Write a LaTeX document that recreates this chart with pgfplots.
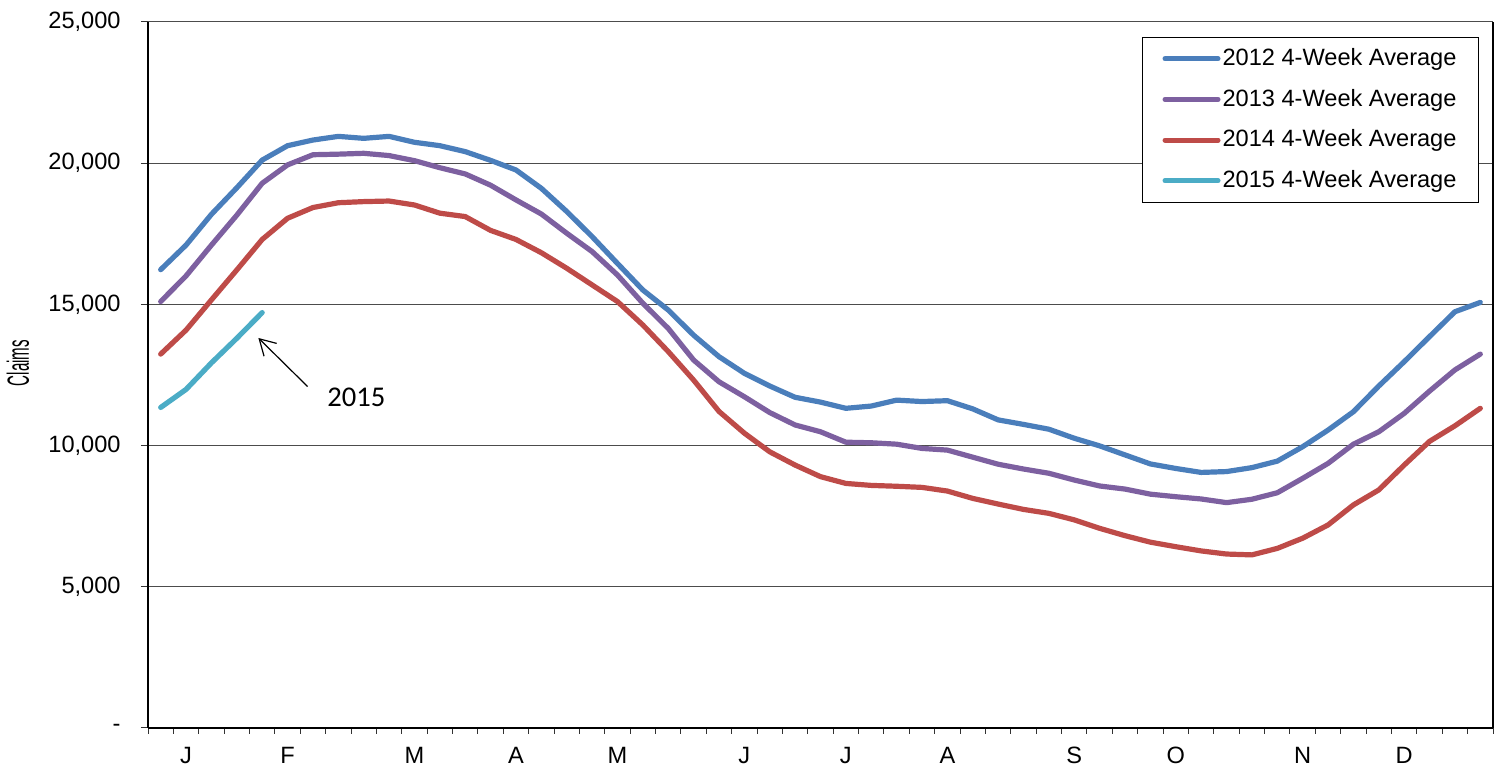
\documentclass[border=0pt]{standalone}
\usepackage{fontspec}
\setmainfont{Liberation Sans}
\newfontfamily\calibri{Carlito}
\usepackage{graphicx}
\usepackage{pgfplots}
\pgfplotsset{compat=1.18}
\usetikzlibrary{arrows.meta}
\definecolor{c12}{HTML}{4A7EBB}
\definecolor{c13}{HTML}{7D60A0}
\definecolor{c14}{HTML}{BE4B48}
\definecolor{c15}{HTML}{4BACC6}

\pgfplotstableread{
x y
0 16230
1 17100
2 18190
3 19130
4 20110
5 20620
6 20820
7 20950
8 20880
9 20950
10 20740
11 20620
12 20410
13 20100
14 19760
15 19110
16 18290
17 17400
18 16450
19 15510
20 14800
21 13910
22 13150
23 12560
24 12110
25 11710
26 11540
27 11320
28 11400
29 11610
30 11560
31 11590
32 11300
33 10910
34 10750
35 10580
36 10260
37 9990
38 9670
39 9350
40 9190
41 9050
42 9080
43 9220
44 9450
45 9960
46 10550
47 11200
48 12110
49 12970
50 13860
51 14740
52 15070
}\dataA

\pgfplotstableread{
x y
0 15100
1 16010
2 17100
3 18160
4 19290
5 19940
6 20300
7 20320
8 20350
9 20270
10 20090
11 19840
12 19620
13 19220
14 18700
15 18200
16 17520
17 16870
18 16040
19 15040
20 14150
21 13030
22 12260
23 11730
24 11170
25 10730
26 10490
27 10120
28 10100
29 10050
30 9900
31 9840
32 9590
33 9340
34 9170
35 9020
36 8780
37 8570
38 8460
39 8280
40 8190
41 8110
42 7980
43 8100
44 8330
45 8840
46 9370
47 10050
48 10490
49 11140
50 11930
51 12680
52 13240
}\dataB

\pgfplotstableread{
x y
0 13240
1 14090
2 15160
3 16220
4 17300
5 18050
6 18430
7 18600
8 18640
9 18660
10 18520
11 18230
12 18110
13 17620
14 17300
15 16830
16 16280
17 15690
18 15100
19 14270
20 13330
21 12320
22 11210
23 10440
24 9780
25 9310
26 8900
27 8660
28 8590
29 8560
30 8520
31 8390
32 8130
33 7930
34 7740
35 7600
36 7370
37 7070
38 6810
39 6580
40 6420
41 6270
42 6160
43 6130
44 6360
45 6720
46 7190
47 7900
48 8430
49 9310
50 10150
51 10700
52 11320
}\dataC

\pgfplotstableread{
x y
0 11350
1 11990
2 12930
3 13800
4 14710
}\dataD

\begin{document}
\fontsize{11.8}{14}\selectfont
\begin{tikzpicture}
\path[use as bounding box] (0,0) rectangle (750pt,385pt);
\begin{axis}[
  at={(74pt,21pt)}, anchor=south west,
  scale only axis, width=672.5pt, height=353pt,
  xmin=-0.5, xmax=52.5, ymin=0, ymax=25000,
  axis x line=bottom, axis y line=left,
  axis line style={line width=1pt, -},
  tick align=outside,
  scaled y ticks=false, scaled x ticks=false,
  xtick={1,5,10,14,18,23,27,31,36,40,45,49},
  xticklabels={J,F,M,A,M,J,J,A,S,O,N,D},
  minor xtick={-0.5,0.5,...,52.5},
  major x tick style={draw=none},
  minor x tick style={black!80, line width=0.5pt},
  minor tick length=3pt,
  major tick length=3.5pt,
  ytick={0,5000,10000,15000,20000,25000},
  yticklabels={-,{5,000},{10,000},{15,000},{20,000},{25,000}},
  major y tick style={black!80, line width=0.5pt},
  ymajorgrids,
  major grid style={black!70, line width=0.5pt},
  extra x ticks={52.5},
  extra x tick labels={},
  extra x tick style={xmajorgrids=true, major grid style={black, line width=0.6pt}},
  xticklabel style={inner sep=0pt, anchor=north, yshift=-6pt},
  yticklabel style={inner sep=0pt, anchor=east, xshift=-10pt},
  ylabel={\scalebox{0.64}[1.3]{Claims}},
  ylabel style={at={(rel axis cs:-0.0967,0.517)}, anchor=center, font=\fontsize{11.8}{14}\selectfont},
  legend cell align=left,
  legend style={at={(1,1)}, anchor=north east, xshift=-7pt, yshift=-7.5pt,
    draw=black, line width=0.5pt, inner xsep=10pt, inner ysep=4.5pt, row sep=8pt,
    nodes={inner sep=1pt}},
  legend image code/.code={\draw[line width=2.5pt, line cap=round] (0pt,0pt) -- (26.5pt,0pt);},
  every axis plot/.append style={line width=2.6pt, line cap=round, line join=round},
]
\addplot[c12] table {\dataA};
\addlegendentry{2012 4-Week Average}
\addplot[c13] table {\dataB};
\addlegendentry{2013 4-Week Average}
\addplot[c14] table {\dataC};
\addlegendentry{2014 4-Week Average}
\addplot[c15] table {\dataD};
\addlegendentry{2015 4-Week Average}
\draw[line width=0.6pt, -{Straight Barb[length=7.8pt,width=9pt]}] (axis cs:5.79,12090) -- (axis cs:3.85,13810);
\node[font=\calibri\fontsize{14.3}{16}\selectfont] at (axis cs:7.71,11720) {2015};
\end{axis}
\end{tikzpicture}
\end{document}
